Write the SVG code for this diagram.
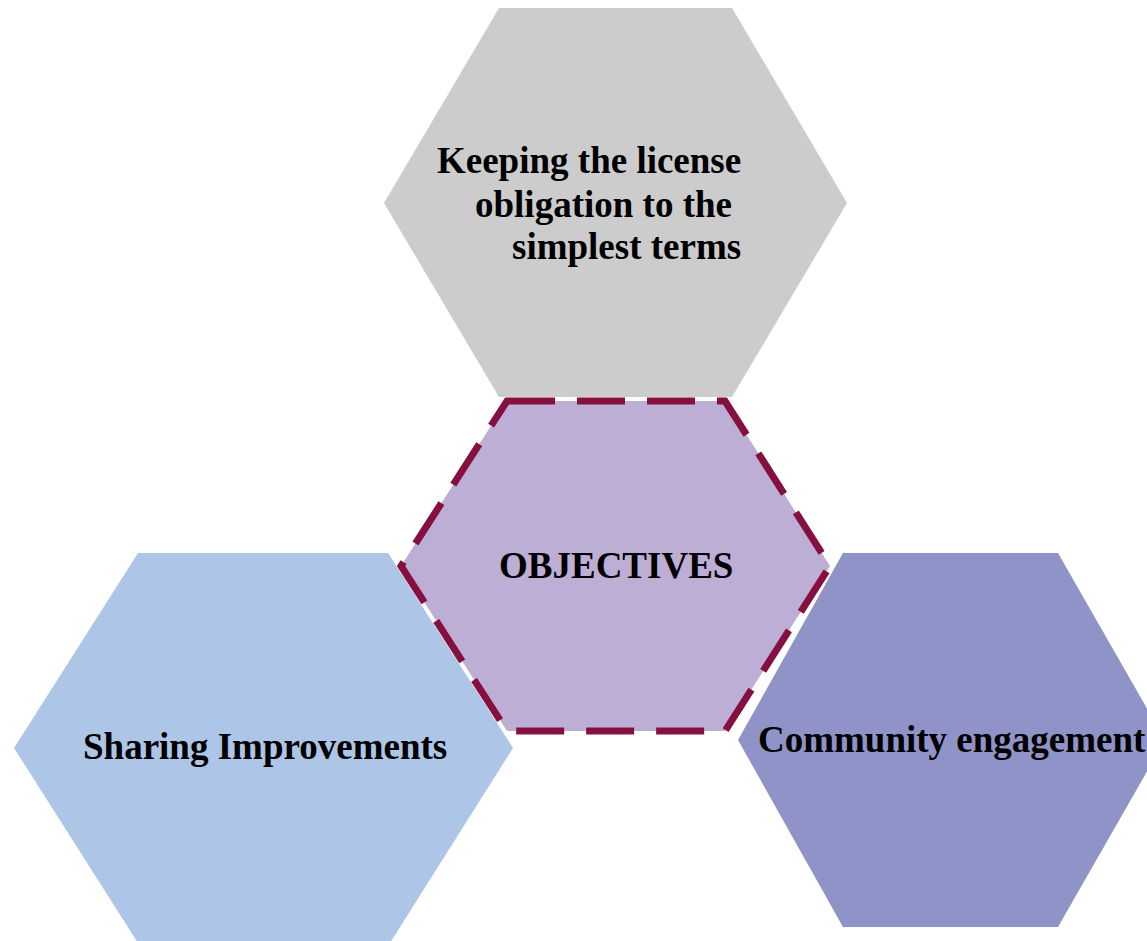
<svg xmlns="http://www.w3.org/2000/svg" width="1147" height="941" viewBox="0 0 1147 941">
<style>
.lbl{font-family:"Liberation Serif","Times New Roman",serif;font-weight:bold;font-size:37px;fill:#000}
</style>
<rect width="1147" height="941" fill="#fff"/>
<g id="node-top">
<polygon points="499,8 732,8 847,203 732,397 499,397 384,203" fill="#CCCCCC"/>
<text class="lbl" x="437" y="173">Keeping the license</text>
<text class="lbl" x="475" y="217">obligation to the</text>
<text class="lbl" x="512" y="259">simplest terms</text>
</g>
<g id="node-left">
<polygon points="138,553 388,553 513,748 390,943 138,943 14,748" fill="#ADC5E7"/>
<text class="lbl" x="83" y="759">Sharing Improvements</text>
</g>
<g id="node-right">
<polygon points="843,553 1058,553 1165,740 1058,927 843,927 738,740" fill="#8F93C7"/>
<text class="lbl" x="758" y="752">Community engagement</text>
</g>
<g id="node-center">
<polygon points="507,401 725,401 830,566 725,731 507,731 401,566" fill="#BDAED5" stroke="#85103F" stroke-width="7" stroke-dasharray="48 22" stroke-linejoin="miter"/>
<text class="lbl" x="499" y="578">OBJECTIVES</text>
</g>
<g id="connectors"/>
</svg>
